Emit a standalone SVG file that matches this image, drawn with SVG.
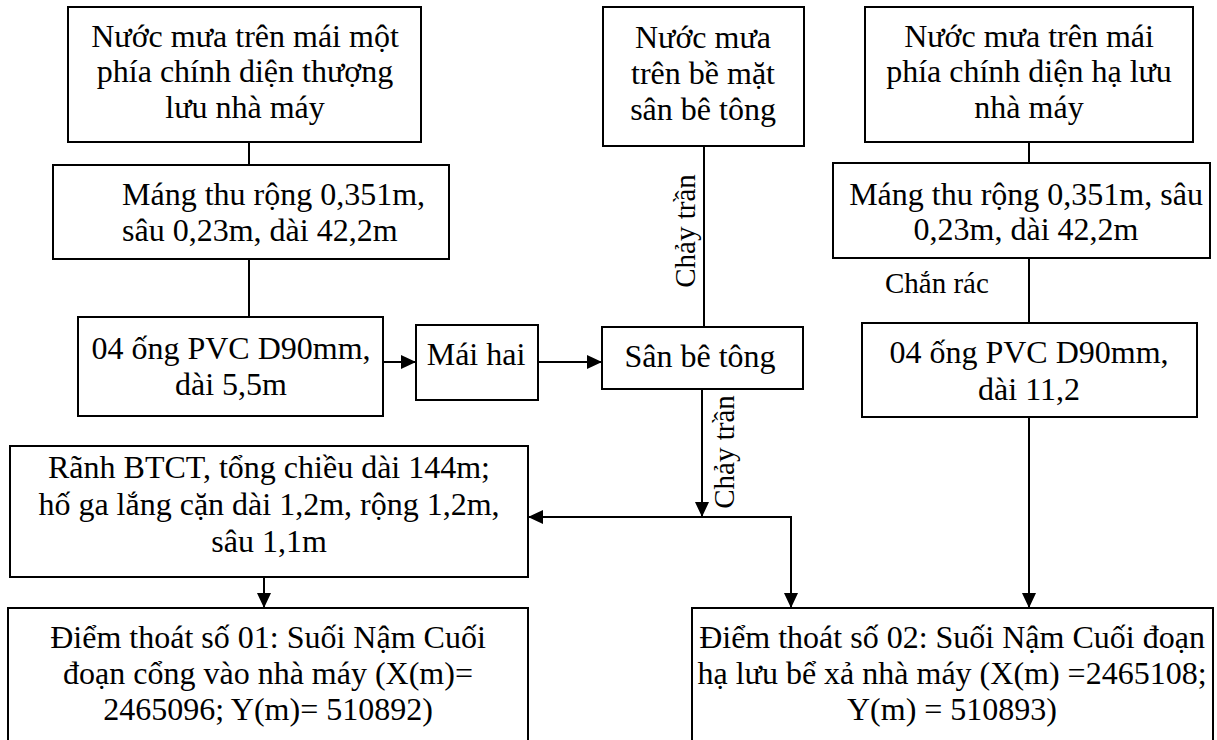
<svg xmlns="http://www.w3.org/2000/svg" width="1217" height="740" viewBox="0 0 1217 740">
<style>
.box{fill:#fff;stroke:#000;stroke-width:2}
.t{font-family:"Liberation Serif","Times New Roman",serif;font-size:32px;fill:#000}
.c{text-anchor:middle}
.lbl{font-family:"Liberation Serif","Times New Roman",serif;font-size:29px;fill:#000}
.ln{stroke:#000;stroke-width:2;fill:none}
.ar{stroke:#000;stroke-width:2;fill:none;marker-end:url(#ah)}
</style>
<defs>
<marker id="ah" markerUnits="userSpaceOnUse" markerWidth="15" markerHeight="14" refX="15" refY="7" orient="auto">
<path d="M0,0 L15,7 L0,14 Z" fill="#000"/>
</marker>
</defs>
<rect width="1217" height="740" fill="#fff"/>
<g id="connectors">
<line class="ln" x1="249" y1="142" x2="249" y2="165"/>
<line class="ln" x1="249" y1="259" x2="249" y2="317"/>
<line class="ar" x1="383" y1="362" x2="416" y2="362"/>
<line class="ar" x1="538" y1="362" x2="602" y2="362"/>
<line class="ln" x1="704" y1="146" x2="704" y2="327"/>
<line class="ar" x1="702" y1="389" x2="702" y2="517"/>
<line class="ar" x1="792" y1="517" x2="528" y2="517"/>
<line class="ar" x1="791" y1="516" x2="791" y2="608"/>
<line class="ar" x1="264" y1="577" x2="264" y2="608"/>
<line class="ln" x1="1029" y1="142" x2="1029" y2="163"/>
<line class="ln" x1="1029" y1="258" x2="1029" y2="323"/>
<line class="ar" x1="1029" y1="417" x2="1029" y2="608"/>
<text class="lbl c" x="695" y="231" transform="rotate(-90 695 231)">Chảy trần</text>
<text class="lbl c" x="734" y="452" transform="rotate(-90 734 452)">Chảy trần</text>
<text class="lbl" x="885" y="293">Chắn rác</text>
</g>
<g id="n-mai-thuong-luu">
<rect class="box" x="68" y="7" width="353" height="135"/>
<text class="t c" x="245" y="47">Nước mưa trên mái một</text>
<text class="t c" x="245" y="82">phía chính diện thượng</text>
<text class="t c" x="245" y="118">lưu nhà máy</text>
</g>
<g id="n-mang-thu-1">
<rect class="box" x="53" y="165" width="396" height="94"/>
<text class="t" x="122" y="205">Máng thu rộng 0,351m,</text>
<text class="t" x="122" y="241">sâu 0,23m, dài 42,2m</text>
</g>
<g id="n-ong-pvc-1">
<rect class="box" x="78" y="317" width="305" height="99"/>
<text class="t c" x="231" y="359">04 ống PVC D90mm,</text>
<text class="t c" x="231" y="395">dài 5,5m</text>
</g>
<g id="n-mai-hai">
<rect class="box" x="416" y="325" width="122" height="75"/>
<text class="t c" x="476" y="365">Mái hai</text>
</g>
<g id="n-nuoc-mua-san">
<rect class="box" x="603" y="7" width="201" height="139"/>
<text class="t c" x="703" y="48">Nước mưa</text>
<text class="t c" x="703" y="84">trên bề mặt</text>
<text class="t c" x="703" y="120">sân bê tông</text>
</g>
<g id="n-san-be-tong">
<rect class="box" x="602" y="327" width="201" height="62"/>
<text class="t c" x="700" y="367">Sân bê tông</text>
</g>
<g id="n-mai-ha-luu">
<rect class="box" x="865" y="7" width="328" height="135"/>
<text class="t c" x="1029" y="47">Nước mưa trên mái</text>
<text class="t c" x="1029" y="82">phía chính diện hạ lưu</text>
<text class="t c" x="1029" y="118">nhà máy</text>
</g>
<g id="n-mang-thu-2">
<rect class="box" x="833" y="163" width="377" height="95"/>
<text class="t c" x="1026" y="205">Máng thu rộng 0,351m, sâu</text>
<text class="t c" x="1026" y="240">0,23m, dài 42,2m</text>
</g>
<g id="n-ong-pvc-2">
<rect class="box" x="862" y="323" width="335" height="94"/>
<text class="t c" x="1029" y="363">04 ống PVC D90mm,</text>
<text class="t c" x="1029" y="400">dài 11,2</text>
</g>
<g id="n-ranh-btct">
<rect class="box" x="10" y="446" width="518" height="131"/>
<text class="t c" x="269" y="478">Rãnh BTCT, tổng chiều dài 144m;</text>
<text class="t c" x="269" y="515">hố ga lắng cặn dài 1,2m, rộng 1,2m,</text>
<text class="t c" x="269" y="552">sâu 1,1m</text>
</g>
<g id="n-diem-thoat-01">
<rect class="box" x="8" y="608" width="520" height="140"/>
<text class="t c" x="268" y="648">Điểm thoát số 01: Suối Nậm Cuối</text>
<text class="t c" x="268" y="684">đoạn cổng vào nhà máy (X(m)=</text>
<text class="t c" x="268" y="720">2465096; Y(m)= 510892)</text>
</g>
<g id="n-diem-thoat-02">
<rect class="box" x="692" y="608" width="521" height="140"/>
<text class="t c" x="952" y="648">Điểm thoát số 02: Suối Nậm Cuối đoạn</text>
<text class="t c" x="952" y="684">hạ lưu bể xả nhà máy (X(m) =2465108;</text>
<text class="t c" x="952" y="720">Y(m) = 510893)</text>
</g>
</svg>
